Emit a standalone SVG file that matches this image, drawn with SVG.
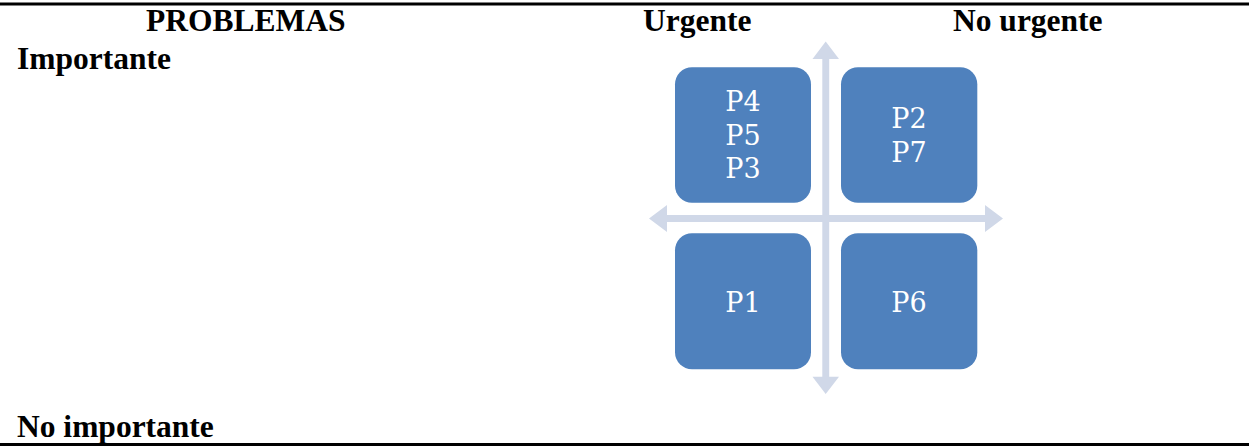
<svg xmlns="http://www.w3.org/2000/svg" width="1249" height="448" viewBox="0 0 1249 448">
<style>
.hdr{font-family:"Liberation Serif","Times New Roman",serif;font-weight:bold;font-size:31.5px;fill:#000}
.box{fill:#4F81BD}
.lbl{font-family:"DejaVu Serif","Liberation Serif",serif;font-size:27px;fill:#fff;text-anchor:middle}
.axis{fill:#D0D8E8}
</style>
<rect x="0" y="2.5" width="1249" height="3" fill="#000"/>
<rect x="0" y="443" width="1249" height="3" fill="#000"/>
<text class="hdr" x="146" y="31">PROBLEMAS</text>
<text class="hdr" x="643" y="31">Urgente</text>
<text class="hdr" x="953" y="31">No urgente</text>
<text class="hdr" x="17" y="69">Importante</text>
<text class="hdr" x="17" y="437">No importante</text>
<g id="connectors">
<polygon class="axis" points="822.3,59 812.5,59 825.7,41.5 839,59 829.2,59 829.2,376.7 839,376.7 825.7,394 812.5,376.7 822.3,376.7"/>
<polygon class="axis" points="667,215 667,205 649,218.5 667,232 667,222 985,222 985,232 1003,218.5 985,205 985,215"/>
</g>
<g id="q1">
<rect class="box" x="675" y="67.3" width="136" height="135.4" rx="17"/>
<text class="lbl" x="743" y="111">P4</text>
<text class="lbl" x="743" y="144.5">P5</text>
<text class="lbl" x="743" y="178">P3</text>
</g>
<g id="q2">
<rect class="box" x="841" y="67.3" width="136.3" height="135.4" rx="17"/>
<text class="lbl" x="909" y="128.3">P2</text>
<text class="lbl" x="909" y="161.7">P7</text>
</g>
<g id="q3">
<rect class="box" x="675" y="233.3" width="136" height="136" rx="17"/>
<text class="lbl" x="743" y="311.7">P1</text>
</g>
<g id="q4">
<rect class="box" x="841" y="233.3" width="136.3" height="136" rx="17"/>
<text class="lbl" x="909" y="311.7">P6</text>
</g>
</svg>
